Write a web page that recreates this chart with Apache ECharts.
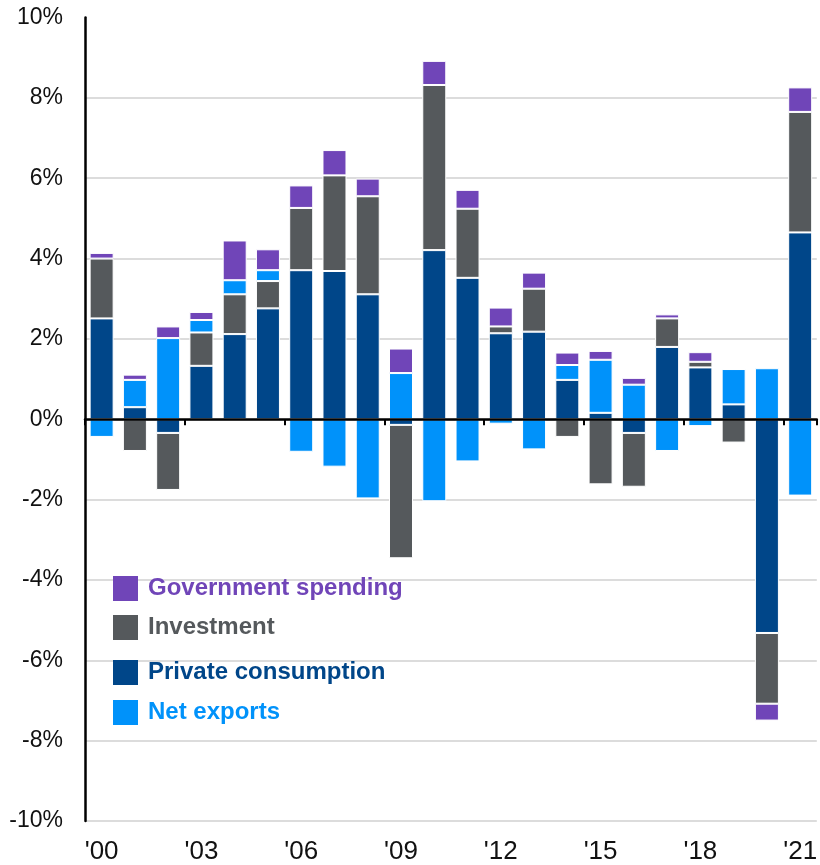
<!DOCTYPE html>
<html>
<head>
<meta charset="utf-8">
<script src="https://cdn.jsdelivr.net/npm/echarts@6/dist/echarts.min.js"></script>
<style>
  html, body { margin: 0; padding: 0; background: #fff; }
  #chart { width: 820px; height: 865px; }
</style>
</head>
<body>
<div id="chart"></div>
<script>
// Contributions to real GDP growth, percentage points, 2000-2021
const years = ['2000','2001','2002','2003','2004','2005','2006','2007','2008','2009','2010',
               '2011','2012','2013','2014','2015','2016','2017','2018','2019','2020','2021'];

const privateConsumption = [2.51, 0.30, -0.34, 1.33, 2.12, 2.76, 3.71, 3.69, 3.11, -0.14, 4.21,
                            3.52, 2.14, 2.18, 0.98, 0.16, -0.34, 1.80, 1.29, 0.37, -5.32, 4.65];
const investment = [1.49, -0.79, -1.42, 0.83, 0.99, 0.68, 1.55, 2.38, 2.44, -3.32, 4.11,
                    1.72, 0.17, 1.07, -0.44, -1.62, -1.34, 0.71, 0.14, -0.58, -1.76, 3.00];
const netExports = [-0.44, 0.68, 2.02, 0.31, 0.35, 0.27, -0.81, -1.18, -1.97, 1.15, -2.04,
                    -1.05, -0.11, -0.75, 0.37, 1.32, 0.86, -0.79, -0.17, 0.88, 1.27, -1.90];
const governmentSpending = [0.14, 0.13, 0.29, 0.20, 0.99, 0.52, 0.56, 0.63, 0.44, 0.61, 0.60,
                            0.47, 0.47, 0.40, 0.31, 0.22, 0.17, 0.10, 0.24, 0, -0.42, 0.61];

const yTicks = { min: -10, max: 10, step: 2 };

const COLORS = {
  gov: '#7045b8',
  inv: '#55595c',
  pc: '#004689',
  nx: '#0092fa'
};

const FONT = '"Liberation Sans", Arial, sans-serif';

const chart = echarts.init(document.getElementById('chart'), null, { renderer: 'canvas' });

function barSeries(name, data, color) {
  return {
    name: name,
    type: 'bar',
    stack: 'gdp',
    data: data,
    barWidth: 24,
    xAxisIndex: 0,
    z: 2,
    itemStyle: { color: color, borderColor: '#ffffff', borderWidth: 1 },
    emphasis: { disabled: true }
  };
}

function legendItem(name, color, top) {
  return {
    left: 113,
    top: top,
    padding: 0,
    orient: 'vertical',
    itemWidth: 25,
    itemHeight: 25,
    selectedMode: false,
    icon: 'rect',
    itemStyle: { borderWidth: 0 },
    data: [{ name: name, textStyle: { color: color } }],
    textStyle: {
      fontFamily: FONT,
      fontSize: 24,
      fontWeight: 'bold',
      lineHeight: 28,
      padding: [3, 0, 0, 5]
    }
  };
}

// one split line per tick from -10% to 10%; the top one stays hidden
const splitColors = [];
for (let v = yTicks.min; v <= yTicks.max; v += yTicks.step) {
  splitColors.push(v === yTicks.max ? 'rgba(0,0,0,0)' : '#dcdcdc');
}

chart.setOption({
  animation: false,
  backgroundColor: '#ffffff',
  grid: { left: 85, right: -2, top: 17.5, bottom: 40.5, containLabel: false },
  legend: [
    legendItem('Government spending', COLORS.gov, 573),
    legendItem('Investment', COLORS.inv, 612),
    legendItem('Private consumption', COLORS.pc, 657),
    legendItem('Net exports', COLORS.nx, 697)
  ],
  xAxis: [
    {
      // axis line drawn through zero, over the bars, with ticks every third year
      type: 'category',
      data: years,
      position: 'bottom',
      z: 10,
      axisLine: { show: true, onZero: true, lineStyle: { color: '#000', width: 2.5 } },
      axisTick: { show: true, interval: 2, length: 6, lineStyle: { color: '#000', width: 2 } },
      axisLabel: { show: false },
      splitLine: { show: false }
    },
    {
      // year labels along the bottom
      type: 'category',
      data: years,
      position: 'bottom',
      axisLine: { show: false, onZero: false },
      axisTick: { show: false },
      splitLine: { show: false },
      axisLabel: {
        interval: 2,
        margin: 18,
        fontFamily: '"Liberation Sans Narrow", "Arial Narrow", ' + FONT,
        fontSize: 26,
        color: '#111',
        formatter: function (v) { return "'" + v.slice(2); }
      }
    }
  ],
  yAxis: {
    type: 'value',
    min: yTicks.min,
    max: yTicks.max,
    interval: yTicks.step,
    axisLine: { show: true, lineStyle: { color: '#000', width: 2.5 } },
    axisTick: { show: false },
    splitLine: { show: true, lineStyle: { color: splitColors, width: 2 } },
    axisLabel: {
      margin: 22,
      fontFamily: FONT,
      fontSize: 23,
      color: '#111',
      formatter: '{value}%'
    }
  },
  series: [
    barSeries('Private consumption', privateConsumption, COLORS.pc),
    barSeries('Investment', investment, COLORS.inv),
    barSeries('Net exports', netExports, COLORS.nx),
    barSeries('Government spending', governmentSpending, COLORS.gov)
  ]
});
</script>
</body>
</html>
